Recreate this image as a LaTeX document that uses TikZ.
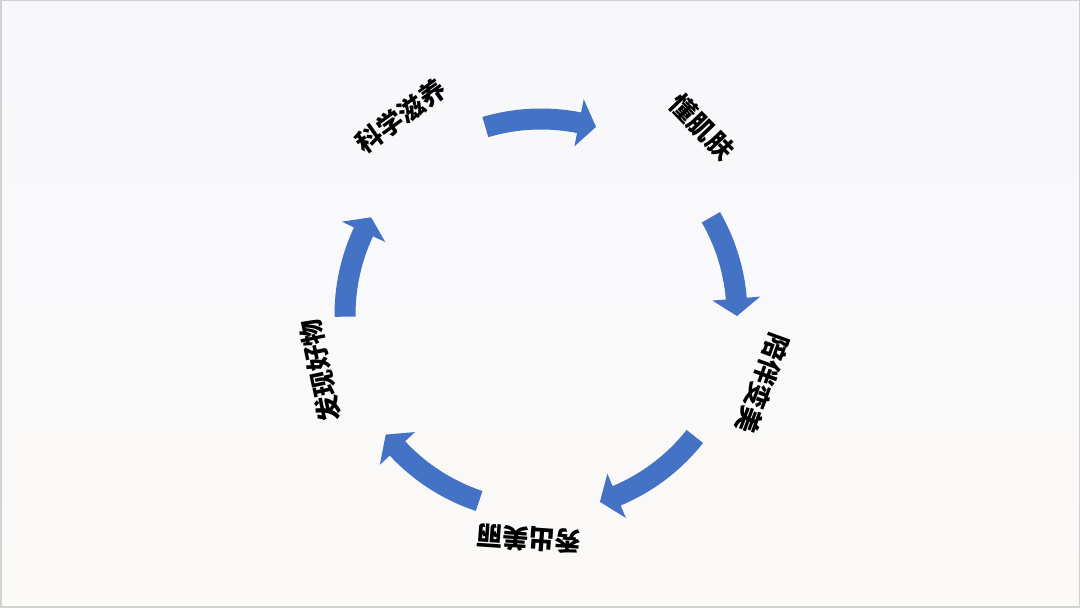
\documentclass[tikz,border=0pt]{standalone}
\usepackage{fontspec}
\newfontfamily\cjk{Noto Sans CJK SC}
\usetikzlibrary{positioning}
\definecolor{arrowblue}{HTML}{4472C4}
\definecolor{bgtop}{RGB}{247,247,252}
\definecolor{bgbot}{RGB}{252,250,247}

\begin{document}
\begin{tikzpicture}[
    x=1pt, y=1pt,
    stage/.style={font=\cjk\bfseries\fontsize{26}{26}\selectfont, text=black, inner sep=0pt},
    cyclearrow/.style={fill=arrowblue, draw=none}
]
    % canvas
    \shade[top color=bgtop, bottom color=bgbot] (0,0) rectangle (1080,608);
    \draw[gray!35, line width=1.5pt] (0.75,0.75) rectangle (1079.25,607.25);
    \useasboundingbox (0,0) rectangle (1080,608);

    \coordinate (hub) at (541,293);

    \node[stage, rotate=35.6] (kexue) at (401,492) {科学滋养};
    \node[stage, rotate=-46] (dongji) at (702,481) {懂肌肤};
    \node[stage, rotate=-110] (peiban) at (763,224) {陪伴变美};
    \node[stage, rotate=176] (xiuchu) at (529,69) {秀出美丽};
    \node[stage, rotate=102] (faxian) at (320,237) {发现好物};

    % curved arrows round the hub
    \begin{scope}[shift={(hub)}]
        \fill[cyclearrow] (106.5:206.5pt) arc[start angle=106.5, end angle=78.8, radius=206.5pt]
            -- (78.8:220pt) -- (73.7:196pt) -- (78.8:172pt) -- (78.8:185.5pt)
            arc[start angle=78.8, end angle=106.5, radius=185.5pt] -- cycle;
        \fill[cyclearrow] (29.9:206.5pt) arc[start angle=29.9, end angle=4.8, radius=206.5pt]
            -- (4.8:220pt) -- (-0.3:196pt) -- (4.8:172pt) -- (4.8:185.5pt)
            arc[start angle=4.8, end angle=29.9, radius=185.5pt] -- cycle;
        \fill[cyclearrow] (-38.3:206.5pt) arc[start angle=-38.3, end angle=-67.3, radius=206.5pt]
            -- (-67.3:220pt) -- (-72.5:196pt) -- (-67.3:172pt) -- (-67.3:185.5pt)
            arc[start angle=-67.3, end angle=-38.3, radius=185.5pt] -- cycle;
        \fill[cyclearrow] (-108.4:206.5pt) arc[start angle=-108.4, end angle=-137.1, radius=206.5pt]
            -- (-137.1:220pt) -- (-142.4:196pt) -- (-137.1:172pt) -- (-137.1:185.5pt)
            arc[start angle=-137.1, end angle=-108.4, radius=185.5pt] -- cycle;
        \fill[cyclearrow] (180.5:206.5pt) arc[start angle=180.5, end angle=154.9, radius=206.5pt]
            -- (154.9:220pt) -- (150.1:196pt) -- (154.9:172pt) -- (154.9:185.5pt)
            arc[start angle=154.9, end angle=180.5, radius=185.5pt] -- cycle;
    \end{scope}
\end{tikzpicture}
\end{document}
